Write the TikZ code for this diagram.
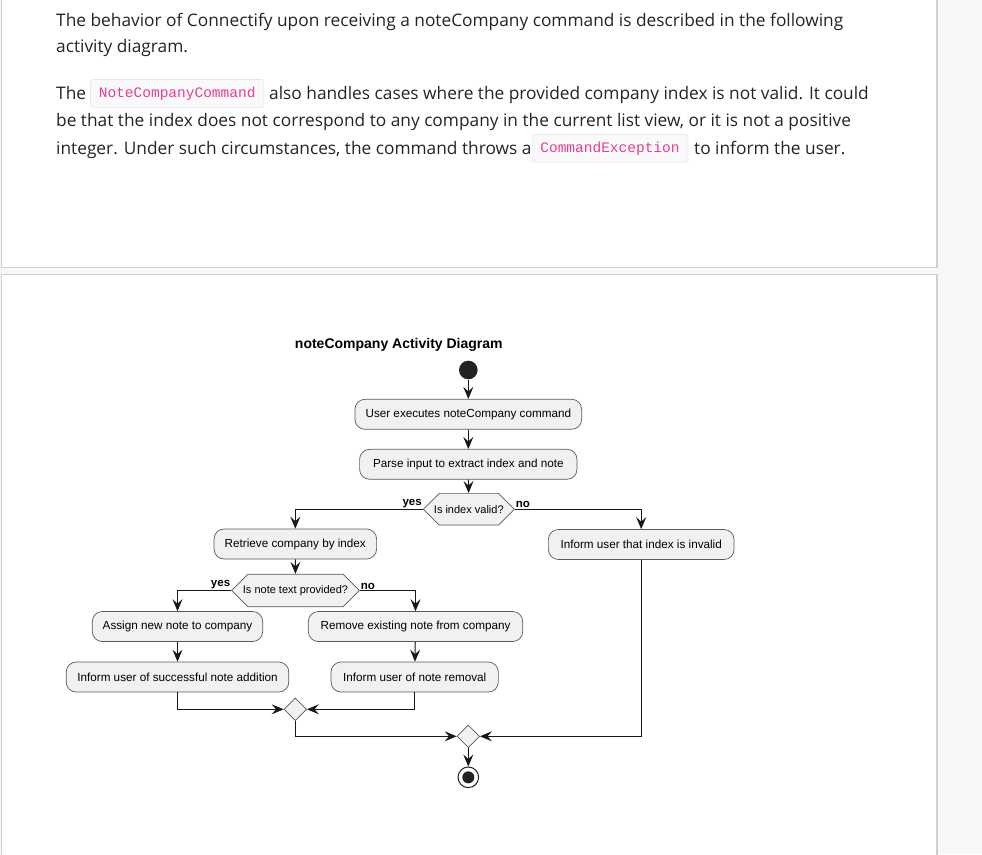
\documentclass[tikz,border=0pt]{standalone}
\usepackage{fontspec}
\usetikzlibrary{arrows.meta,shapes.geometric,shapes.misc}
\newfontfamily\bodyfont{Open Sans}
\newfontfamily\codefont{Liberation Mono}
\newfontfamily\umlfont{Liberation Sans}
\definecolor{pagegray}{HTML}{F7F7F7}
\definecolor{panelline}{HTML}{D0D0D0}
\definecolor{bodytext}{HTML}{212529}
\definecolor{codepink}{HTML}{E83E8C}
\definecolor{codebg}{HTML}{F9F9FB}
\definecolor{codeline}{HTML}{DDDDE6}
\definecolor{umlfill}{HTML}{F1F1F1}
\definecolor{umlline}{HTML}{181818}
\definecolor{umledge}{HTML}{5A5A5A}
\definecolor{umldot}{HTML}{222222}
\begin{document}
\begin{tikzpicture}[x=1pt,y=-1pt]
    \tikzstyle{para}=[anchor=base west,inner sep=0pt,text=bodytext,font=\bodyfont\fontsize{17.3}{20}\selectfont]
    \tikzstyle{code}=[draw=codeline,fill=codebg,rounded corners=3pt,inner sep=0pt,minimum height=28.4pt,text=codepink,font=\codefont\fontsize{14.5}{16}\selectfont]
    \tikzstyle{action}=[draw=umledge,line width=0.7pt,fill=umlfill,rounded corners=10pt,minimum height=30pt,inner sep=0pt,font=\umlfont\fontsize{11.7}{14}\selectfont]
    \tikzstyle{choice}=[draw=umledge,line width=0.7pt,fill=umlfill,chamfered rectangle,chamfered rectangle corners=all,chamfered rectangle xsep=8.5pt,chamfered rectangle ysep=11.8pt,minimum height=23.6pt,inner sep=0pt,font=\umlfont\fontsize{11}{13}\selectfont]
    \tikzstyle{merge}=[draw=umledge,line width=0.7pt,fill=umlfill,diamond,aspect=1,minimum size=22.6pt,inner sep=0pt]
    \tikzstyle{guard}=[inner sep=1pt,font=\umlfont\bfseries\fontsize{11.5}{13}\selectfont]
    \tikzstyle{flow}=[draw=umlline,line width=1pt,-{Stealth[length=12pt,width=10pt,inset=4.5pt]}]
    \useasboundingbox (0,0) rectangle (982,854);
    % page and the two panels
    \fill[pagegray] (0,0) rectangle (982,854);
    \filldraw[fill=white,draw=panelline,line width=1.2pt] (1.3,-5) rectangle (937,267.3);
    \filldraw[fill=white,draw=panelline,line width=1.2pt] (1.3,274.3) rectangle (937,860);
    % text above the diagram
    \node[para] (l1) at (56,26) {The behavior of Connectify upon receiving a noteCompany command is described in the following};
    \node[para] (l2) at (56,52.7) {activity diagram.};
    \node[para] (p1a) at (56,99.3) {The};
    \node[code] (c1) at (177.2,93.5) [minimum width=173.2pt] {NoteCompanyCommand};
    \node[para] (p1b) at (269,99.3) {also handles cases where the provided company index is not valid. It could};
    \node[para] (p2) at (56,126.7) {be that the index does not correspond to any company in the current list view, or it is not a positive};
    \node[para] (p3a) at (56,154.3) {integer. Under such circumstances, the command throws a};
    \node[code] (c2) at (610,148.3) [minimum width=156pt] {CommandException};
    \node[para] (p3b) at (694,154.3) {to inform the user.};
    % activity diagram
    \node[font=\umlfont\bfseries\fontsize{14}{16}\selectfont] (title) at (398.8,345) {noteCompany Activity Diagram};
    \node[circle,fill=umldot,minimum size=18.6pt,inner sep=0pt] (start) at (468.3,370) {};
    \node[action,minimum width=226.7pt] (a1) at (468.3,414.3) {User executes noteCompany command};
    \node[action,minimum width=217.4pt] (a2) at (468.3,464.3) {Parse input to extract index and note};
    \node[choice,minimum width=91pt] (q1) at (468.8,509.2) {Is index valid?};
    \node[action,minimum width=162.6pt] (a3) at (295.3,544) {Retrieve company by index};
    \node[action,minimum width=185.7pt] (a4) at (641.2,544.5) {Inform user that index is invalid};
    \node[choice,minimum width=127.6pt,minimum height=22.4pt,chamfered rectangle ysep=11.2pt] (q2) at (295.5,590.5) {Is note text provided?};
    \node[action,minimum width=170.4pt] (a5) at (177.5,626.5) {Assign new note to company};
    \node[action,minimum width=222.6pt] (a6) at (177.5,677) {Inform user of successful note addition};
    \node[action,minimum width=214.4pt] (a7) at (415.5,626.5) {Remove existing note from company};
    \node[action,minimum width=167.3pt] (a8) at (414.7,677) {Inform user of note removal};
    \node[merge] (m1) at (295.3,709.3) {};
    \node[merge] (m2) at (468.3,736.3) {};
    \node[circle,draw=umldot,line width=1pt,fill=white,minimum size=20.6pt,inner sep=0pt] (stop) at (468.3,777.3) {};
    \fill[umldot] (stop.center) circle (6);
    \node[guard,anchor=south east] (y1) at (q1.west) {yes};
    \node[guard,anchor=south west] (n1) at (q1.east) {no};
    \node[guard,anchor=south east] (y2) at (q2.west) {yes};
    \node[guard,anchor=south west] (n2) at (q2.east) {no};
    \draw[flow] (start) -- (a1);
    \draw[flow] (a1) -- (a2);
    \draw[flow] (a2) -- (q1);
    \draw[flow] (q1.west) -| (a3.north);
    \draw[flow] (q1.east) -| (a4.north);
    \draw[flow] (a3) -- (q2);
    \draw[flow] (q2.west) -| (a5.north);
    \draw[flow] (q2.east) -| (a7.north);
    \draw[flow] (a5) -- (a6);
    \draw[flow] (a7) -- (a8);
    \draw[flow] (a6.south) |- (m1.west);
    \draw[flow] (a8.south) |- (m1.east);
    \draw[flow] (m1.south) |- (m2.west);
    \draw[flow] (a4.south) |- (m2.east);
    \draw[flow] (m2) -- (stop);
\end{tikzpicture}
\end{document}
